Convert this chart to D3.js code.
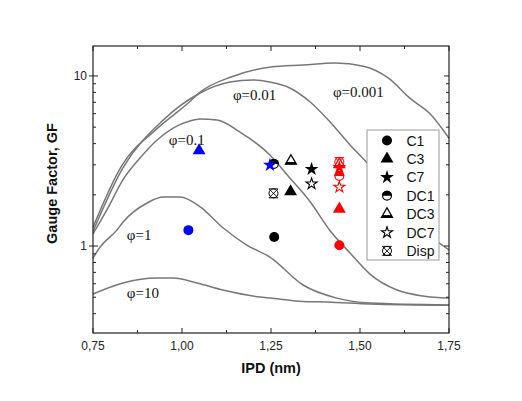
<!DOCTYPE html>
<meta charset="utf-8">
<style>
body { margin: 0; background: #fff; }
.curve { fill: none; stroke: #777; stroke-width: 1.5px; }
.tick-label { font-family: Arial, "Liberation Sans", sans-serif; font-size: 12px; fill: #222; }
.phi { font-family: "Liberation Serif", "Times New Roman", serif; font-size: 15px; fill: #111; }
.title { font-family: Arial, "Liberation Sans", sans-serif; font-size: 14.5px; font-weight: bold; fill: #111; }
.legend text { font-family: Arial, "Liberation Sans", sans-serif; font-size: 14px; fill: #111; }
</style>
<body>
<script src="https://cdn.jsdelivr.net/npm/d3@7"></script>
<script>

// theory curves, one per phi
var phiNames = ["φ=0.001", "φ=0.01", "φ=0.1", "φ=1", "φ=10"];

var ipd0001 = [0.75, 0.83, 0.93, 1.02, 1.05, 1.14, 1.25, 1.34, 1.43, 1.51, 1.58, 1.64, 1.70, 1.75];
var gf0001  = [1.29, 2.95, 4.9, 7.0, 8.0, 9.9, 11.3, 11.6, 11.9, 11.4, 9.7, 7.4, 5.9, 4.3];

var ipd001 = [0.75, 0.834, 0.947, 1.051, 1.135, 1.199, 1.247, 1.303, 1.36, 1.416, 1.472, 1.52, 1.612, 1.669, 1.75];
var gf001  = [1.22, 2.88, 5.5, 7.94, 9.2, 9.47, 9.2, 8.5, 7.03, 5.36, 3.93, 3.08, 1.74, 1.28, 0.95];

var ipd01 = [0.75, 0.789, 0.834, 0.882, 0.93, 0.975, 1.022, 1.051, 1.098, 1.163, 1.247, 1.303, 1.36, 1.416, 1.472, 1.528, 1.604, 1.677, 1.75];
var gf01  = [1.18, 1.63, 2.45, 3.29, 4.2, 4.94, 5.43, 5.58, 5.51, 4.68, 3.43, 2.51, 1.82, 1.23, 0.91, 0.684, 0.551, 0.508, 0.494];

var ipd1 = [0.75, 0.77, 0.817, 0.834, 0.902, 0.947, 0.994, 1.051, 1.115, 1.183, 1.247, 1.34, 1.435, 1.528, 1.75];
var gf1  = [0.85, 0.987, 1.24, 1.38, 1.79, 1.94, 1.94, 1.70, 1.28, 1.01, 0.861, 0.59, 0.494, 0.462, 0.45];

var ipd10 = [0.75, 0.834, 0.93, 0.975, 1.042, 1.115, 1.219, 1.247, 1.34, 1.407, 1.528, 1.75];
var gf10  = [0.522, 0.606, 0.648, 0.648, 0.606, 0.551, 0.501, 0.494, 0.472, 0.469, 0.456, 0.448];

// where each phi label sits (data units, left/baseline)
var phiLabelIPD = [1.424, 1.143, 0.963, 0.845, 0.845];
var phiLabelGF  = [7.5, 7.2, 3.93, 1.085, 0.495];

// measured samples
var sampleNames = ["C1", "C3", "C7", "DC1", "DC3", "DC7", "Disp"];

var blueTypes = ["C3", "C7", "C1"];
var blueIPD   = [1.048, 1.247, 1.018];
var blueGF    = [3.64, 2.99, 1.24];

var blackTypes = ["DC1", "DC3", "C7", "DC7", "Disp", "C3", "C1"];
var blackIPD   = [1.258, 1.306, 1.364, 1.364, 1.257, 1.305, 1.259];
var blackGF    = [3.04, 3.16, 2.83, 2.32, 2.04, 2.09, 1.13];

var redTypes = ["Disp", "DC3", "C7", "DC1", "DC7", "C3", "C1"];
var redIPD   = [1.442, 1.442, 1.442, 1.442, 1.442, 1.442, 1.442];
var redGF    = [3.12, 3.02, 2.90, 2.58, 2.22, 1.65, 1.01];

var xTicks = [0.75, 1.00, 1.25, 1.50, 1.75];

var margin = {top: 46, right: 73, bottom: 68, left: 93},
    width = 522 - margin.left - margin.right,
    height = 401 - margin.top - margin.bottom;

var x = d3.scaleLinear().domain([0.75, 1.75]).range([0, width]);
var y = d3.scaleLog().domain([0.308, 15]).range([height, 0]);

var svg = d3.select("body").append("svg")
    .attr("width", 522)
    .attr("height", 401)
  .append("g")
    .attr("transform", "translate(" + margin.left + "," + margin.top + ")");

var line = d3.line()
    .x(function(d) { return x(d[0]); })
    .y(function(d) { return y(d[1]); })
    .curve(d3.curveMonotoneX);

var curves = [[ipd0001, gf0001], [ipd001, gf001], [ipd01, gf01], [ipd1, gf1], [ipd10, gf10]];

curves.forEach(function(c) {
  svg.append("path")
      .datum(d3.zip(c[0], c[1]))
      .attr("class", "curve")
      .attr("d", line);
});

phiNames.forEach(function(name, i) {
  svg.append("text")
      .attr("class", "phi")
      .attr("x", x(phiLabelIPD[i]))
      .attr("y", y(phiLabelGF[i]))
      .text(name);
});

// markers
var R = 5;
function drawMarker(g, type, color) {
  if (type == "C1") {
    g.append("circle").attr("r", R).attr("fill", color);
  } else if (type == "C3") {
    g.append("path").attr("d", d3.symbol(d3.symbolTriangle, 72)()).attr("fill", color);
  } else if (type == "C7") {
    g.append("path").attr("d", d3.symbol(d3.symbolStar, 60)()).attr("fill", color);
  } else if (type == "DC1") {
    g.append("circle").attr("r", R - 0.6).attr("fill", "#fff")
        .attr("stroke", color).attr("stroke-width", 1.2);
    g.append("path").attr("d", d3.arc()({innerRadius: 0, outerRadius: R, startAngle: -Math.PI / 2, endAngle: Math.PI / 2}))
        .attr("fill", color);
  } else if (type == "DC3") {
    var tri = d3.symbol(d3.symbolTriangle, 52)();
    g.append("path").attr("d", tri).attr("fill", "#fff")
        .attr("stroke", color).attr("stroke-width", 1.3);
    g.append("rect").attr("x", -5).attr("y", 1).attr("width", 10).attr("height", 2.4).attr("fill", color);
  } else if (type == "DC7") {
    g.append("path").attr("d", d3.symbol(d3.symbolStar, 38)()).attr("fill", "#fff")
        .attr("stroke", color).attr("stroke-width", 1.1);
  } else if (type == "Disp") {
    g.append("circle").attr("r", R - 0.5).attr("fill", "none")
        .attr("stroke", color).attr("stroke-width", 1);
    g.append("path").attr("d", "M-4.5,-4.5L4.5,4.5M-4.5,4.5L4.5,-4.5M-4.5,-4.5L4.5,-4.5M-4.5,4.5L4.5,4.5")
        .attr("stroke", color).attr("stroke-width", 0.9);
  }
}

function plotGroup(types, ipd, gf, color) {
  types.forEach(function(t, i) {
    var g = svg.append("g")
        .attr("transform", "translate(" + x(ipd[i]) + "," + y(gf[i]) + ")");
    drawMarker(g, t, color);
  });
}

plotGroup(blackTypes, blackIPD, blackGF, "#000");
plotGroup(redTypes, redIPD, redGF, "#f00");
plotGroup(blueTypes, blueIPD, blueGF, "#00f");

// legend
var legend = svg.append("g")
    .attr("class", "legend")
    .attr("transform", "translate(" + (width - 82) + "," + 84 + ")");

legend.append("rect")
    .attr("width", 72)
    .attr("height", 130)
    .attr("fill", "#fff")
    .attr("stroke", "#999")
    .attr("stroke-width", 1);

sampleNames.forEach(function(name, i) {
  var row = legend.append("g").attr("transform", "translate(0," + (10.5 + i * 18.4) + ")");
  drawMarker(row.append("g").attr("transform", "translate(20,0)"), name, "#000");
  row.append("text")
      .attr("x", 39.5)
      .attr("dy", "0.36em")
      .text(name);
});

// frame and ticks
var fmt = function(d) { return d3.format(".2f")(d).replace(".", ","); };

svg.append("rect")
    .attr("width", width)
    .attr("height", height)
    .attr("fill", "none")
    .attr("stroke", "#222")
    .attr("stroke-width", 1.2);

var xMinor = d3.range(0.875, 1.75, 0.25);
var yMajor = [1, 10];
var yMinor = [0.4, 0.5, 0.6, 0.7, 0.8, 0.9, 2, 3, 4, 5, 6, 7, 8, 9];

var ticks = svg.append("g").attr("stroke", "#222").attr("stroke-width", 1);

xTicks.forEach(function(d) {
  ticks.append("line").attr("x1", x(d)).attr("x2", x(d)).attr("y1", height).attr("y2", height - 5);
  ticks.append("line").attr("x1", x(d)).attr("x2", x(d)).attr("y1", 0).attr("y2", 5);
});
xMinor.forEach(function(d) {
  ticks.append("line").attr("x1", x(d)).attr("x2", x(d)).attr("y1", height).attr("y2", height - 3);
  ticks.append("line").attr("x1", x(d)).attr("x2", x(d)).attr("y1", 0).attr("y2", 3);
});
yMajor.forEach(function(d) {
  ticks.append("line").attr("x1", -4).attr("x2", 5).attr("y1", y(d)).attr("y2", y(d));
  ticks.append("line").attr("x1", width).attr("x2", width - 5).attr("y1", y(d)).attr("y2", y(d));
});
yMinor.forEach(function(d) {
  ticks.append("line").attr("x1", 0).attr("x2", 3).attr("y1", y(d)).attr("y2", y(d));
  ticks.append("line").attr("x1", width).attr("x2", width - 3).attr("y1", y(d)).attr("y2", y(d));
});

xTicks.forEach(function(d) {
  svg.append("text")
      .attr("class", "tick-label")
      .attr("x", x(d))
      .attr("y", height + 17)
      .attr("text-anchor", "middle")
      .text(fmt(d));
});
yMajor.forEach(function(d) {
  svg.append("text")
      .attr("class", "tick-label")
      .attr("x", -6)
      .attr("y", y(d))
      .attr("dy", "0.35em")
      .attr("text-anchor", "end")
      .text(d);
});

svg.append("text")
    .attr("class", "title")
    .attr("x", width / 2)
    .attr("y", height + 40)
    .attr("text-anchor", "middle")
    .text("IPD (nm)");

svg.append("text")
    .attr("class", "title")
    .attr("font-size", "14px")
    .attr("transform", "translate(-36," + (height / 2 - 6) + ") rotate(-90)")
    .attr("text-anchor", "middle")
    .text("Gauge Factor, GF");

</script>
</body>
